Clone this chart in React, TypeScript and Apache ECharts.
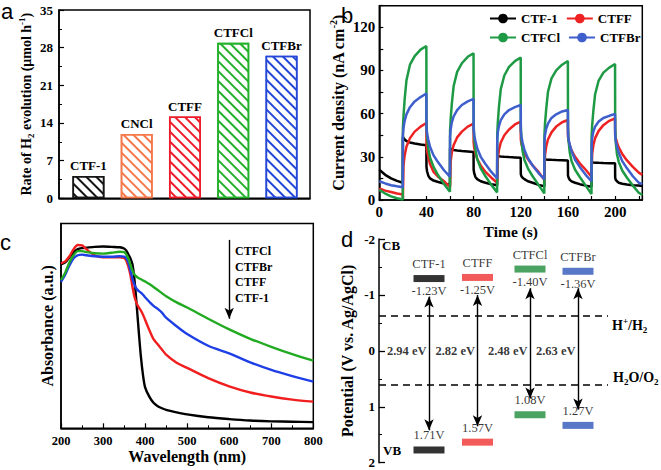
import React, { useEffect, useRef } from "react";
import * as echarts from "echarts";

const SERIF = '"Liberation Serif", "Times New Roman", Times, serif';
const SANS = '"Liberation Sans", Arial, Helvetica, sans-serif';

// ---------- (a) H2 evolution rate ----------
const rateNames = ["CTF-1", "CNCl", "CTFF", "CTFCl", "CTFBr"];
const rateValues = [4.15, 11.95, 15.2, 28.9, 26.5];
const rateColors = ["#151515", "#F5784A", "#EE1C2B", "#23B02A", "#2447D8"];

// ---------- (b) transient photocurrent ----------
const timeS = [0, 5, 10, 15, 19.9,
  20, 20.5, 21.5, 23, 26, 30, 35, 39.9,
  40, 40.5, 41.5, 43, 46, 50, 55, 59.9,
  60, 60.5, 61.5, 63, 66, 70, 75, 79.9,
  80, 80.5, 81.5, 83, 86, 90, 95, 99.9,
  100, 100.5, 101.5, 103, 106, 110, 115, 119.9,
  120, 120.5, 121.5, 123, 126, 130, 135, 139.9,
  140, 140.5, 141.5, 143, 146, 150, 155, 159.9,
  160, 160.5, 161.5, 163, 166, 170, 175, 179.9,
  180, 180.5, 181.5, 183, 186, 190, 195, 199.9,
  200, 200.5, 201.5, 203, 206, 210, 215, 220, 223];
const jCTF1 = [21, 17.5, 15, 13.3, 12,
  44, 43, 42, 41, 40, 39.2, 38.5, 38,
  23, 20, 17, 15, 13.5, 12.5, 11.5, 10.5,
  36, 35.6, 35.2, 34.8, 34.4, 34, 33.7, 33.4,
  21, 18.5, 16, 14.5, 13, 12, 11, 10.3,
  31, 30.7, 30.4, 30.2, 30, 29.8, 29.6, 29.4,
  18, 16.5, 15.5, 14.5, 13, 12, 10.5, 9.5,
  28.3, 28.2, 28.1, 28, 27.9, 27.8, 27.7, 27.5,
  17, 15.5, 14, 13, 12, 11, 10, 9.2,
  26.2, 26.1, 26, 25.9, 25.8, 25.7, 25.6, 25.5,
  15.5, 14, 13, 12, 11.3, 10.8, 10.3, 10, 9.8];
const jCTFF = [8, 6.5, 5.5, 4.5, 3.8,
  0.5, 24, 31, 37, 43, 47.5, 51, 53.5,
  38, 34, 30, 25, 19.5, 16, 13, 9,
  9.5, 27, 33, 38, 43.5, 47.5, 51, 53,
  40, 36, 32.5, 28.5, 24, 19.5, 15.5, 12,
  12, 29, 35, 40, 45, 49, 52.5, 54.4,
  42, 39, 36, 32.5, 28.5, 24, 19.5, 14,
  14, 31, 37, 42, 47, 51, 54, 55.6,
  44, 41, 38, 34.5, 30, 25.5, 21, 16.2,
  16.2, 32, 38, 43, 48, 52, 55, 56.7,
  46, 43, 40, 36.5, 32, 27.5, 23, 19, 17.5];
const jCTFCl = [7, 4.5, 2.5, 1.2, 0.3,
  50, 58, 70, 83, 94, 100, 104.5, 107,
  55, 44, 36, 29.5, 23, 17, 11, 5.8,
  48, 56, 67, 79, 89, 95, 99.5, 102,
  53, 43, 35, 28.5, 22, 16.5, 10.5, 5.3,
  46, 54, 65, 77, 86.5, 92.5, 96.5, 99,
  52, 42, 34, 28, 22, 16.5, 10.5, 4.6,
  45, 53, 63, 75, 84.5, 90, 94, 96.6,
  51, 41, 33, 27, 21, 16, 10, 4.2,
  44, 52, 62, 73.5, 83, 88.5, 92, 94.5,
  50, 40, 32, 26.5, 20.5, 15.5, 10, 5, 3.5];
const jCTFBr = [13, 11.5, 10.3, 9.5, 8.8,
  45, 50, 55, 59.5, 64.5, 68.5, 71.5, 74,
  50, 46, 42, 37, 31, 26, 20.5, 16.2,
  44, 49, 54, 58, 62.5, 66, 68.5, 70.2,
  49, 45, 41, 36, 30, 25, 19.5, 15,
  42, 47, 51.5, 55.5, 59.5, 62.5, 64.5, 66,
  48, 44, 40, 35, 29, 24, 18.7, 14.5,
  40, 45, 49.5, 53, 57, 59.5, 61.5, 62.5,
  46, 42, 38.5, 34, 28, 23, 17.5, 13,
  38, 43, 47.5, 51, 54.5, 57, 58.5, 59.8,
  45, 41, 37.5, 33, 27, 22, 16.5, 12, 11];

// ---------- (c) UV-vis absorbance ----------
const wavelength = [200, 210, 220, 230, 240, 250, 260, 280, 300, 320, 340, 350, 355, 360, 365, 370, 375, 380, 385, 390, 395, 400, 410, 420, 430, 440, 450, 475, 500, 550, 600, 650, 700, 750, 800];
const absCTF1 = [0.80, 0.81, 0.835, 0.86, 0.875, 0.88, 0.882, 0.886, 0.888, 0.886, 0.884, 0.878, 0.868, 0.85, 0.83, 0.80, 0.72, 0.60, 0.47, 0.35, 0.26, 0.20, 0.155, 0.125, 0.108, 0.098, 0.09, 0.078, 0.068, 0.054, 0.045, 0.038, 0.034, 0.032, 0.03];
const absCTFF = [0.805, 0.815, 0.84, 0.875, 0.895, 0.893, 0.875, 0.845, 0.835, 0.835, 0.835, 0.832, 0.82, 0.79, 0.75, 0.69, 0.64, 0.61, 0.59, 0.575, 0.555, 0.53, 0.48, 0.435, 0.41, 0.385, 0.36, 0.32, 0.295, 0.245, 0.205, 0.175, 0.155, 0.14, 0.13];
const absCTFCl = [0.725, 0.76, 0.81, 0.845, 0.865, 0.865, 0.86, 0.855, 0.853, 0.857, 0.862, 0.86, 0.85, 0.83, 0.80, 0.77, 0.75, 0.74, 0.733, 0.728, 0.722, 0.717, 0.705, 0.69, 0.675, 0.66, 0.645, 0.615, 0.59, 0.535, 0.483, 0.437, 0.398, 0.362, 0.33];
const absCTFBr = [0.715, 0.75, 0.795, 0.83, 0.845, 0.848, 0.845, 0.84, 0.838, 0.838, 0.84, 0.838, 0.83, 0.81, 0.77, 0.73, 0.70, 0.68, 0.67, 0.662, 0.652, 0.64, 0.618, 0.598, 0.583, 0.565, 0.54, 0.498, 0.46, 0.403, 0.366, 0.322, 0.285, 0.255, 0.228];
const cLegendOrder = ["CTFCl", "CTFBr", "CTFF", "CTF-1"];

// ---------- (d) band structure ----------
const bandNames = ["CTF-1", "CTFF", "CTFCl", "CTFBr"];
const bandX = [1, 1.97, 3.02, 3.98];
const cbValues = [-1.23, -1.25, -1.40, -1.36];
const vbValues = [1.71, 1.57, 1.08, 1.27];
const gapValues = [2.94, 2.82, 2.48, 2.63];
const bandColors = ["#000000", "#F03232", "#1E8C3A", "#2E55B8"];
const arrowTop = [-0.97, -1.0, -1.12, -1.12];
const arrowBottom = [1.42, 1.35, 0.85, 1.05];
const redoxLevels = [-0.63, 0.61];

const AXIS_LINE = { show: true, onZero: false, lineStyle: { color: "#000", width: 1.5 } };
const bold = (size: number) => ({ fontFamily: SERIF, fontWeight: "bold" as const, fontSize: size, color: "#000" });
const richSub = (size: number, lh: number) => ({
  sub: { fontFamily: SERIF, fontWeight: "bold", fontSize: size, verticalAlign: "bottom", lineHeight: lh, color: "#000" },
  sup: { fontFamily: SERIF, fontWeight: "bold", fontSize: size, verticalAlign: "top", lineHeight: lh, color: "#000" },
});

function buildOption(): any {
  const bSeries = [
    ["CTF-1", jCTF1, "#000000"],
    ["CTFF", jCTFF, "#EE2222"],
    ["CTFCl", jCTFCl, "#1E9A45"],
    ["CTFBr", jCTFBr, "#3E5FCC"],
  ].map(([name, arr, color]: any) => ({
    type: "line",
    name,
    xAxisIndex: 1,
    yAxisIndex: 1,
    symbol: "none",
    color,
    lineStyle: { color, width: 2.5 },
    data: timeS.map((t, i) => [t, arr[i]]),
  }));

  const cSeries = [
    ["c-CTF-1", absCTF1, "#000000"],
    ["c-CTFF", absCTFF, "#F01E1E"],
    ["c-CTFBr", absCTFBr, "#1E3FE6"],
    ["c-CTFCl", absCTFCl, "#22AA22"],
  ].map(([name, arr, color]: any, k) => ({
    type: "line",
    name,
    xAxisIndex: 2,
    yAxisIndex: 2,
    symbol: "none",
    smooth: 0.3,
    lineStyle: { color, width: 2.4 },
    data: wavelength.map((w, i) => [w, arr[i]]),
    ...(k === 3
      ? {
          markLine: {
            silent: true,
            symbol: ["none", "arrow"],
            symbolSize: [7, 11],
            label: { show: false },
            lineStyle: { color: "#000", width: 1.4, type: "solid" },
            data: [[{ coord: [600, 0.92] }, { coord: [600, 0.535] }]],
          },
        }
      : {}),
  }));

  const levelLabel = { fontFamily: SERIF, fontSize: 12.5, color: "#000" };

  const dSeries = [
    {
      type: "scatter", name: "CB", xAxisIndex: 3, yAxisIndex: 3,
      symbol: "rect", symbolSize: [31, 7], symbolOffset: [0, -3.5],
      data: bandNames.map((n, i) => ({ name: n, value: [bandX[i], cbValues[i]], itemStyle: { color: bandColors[i] } })),
    },
    {
      type: "scatter", name: "VB", xAxisIndex: 3, yAxisIndex: 3,
      symbol: "rect", symbolSize: [31, 7], symbolOffset: [0, 3.5],
      data: bandNames.map((n, i) => ({ name: n, value: [bandX[i], vbValues[i]], itemStyle: { color: bandColors[i] } })),
    },
    {
      type: "scatter", name: "cbName", xAxisIndex: 3, yAxisIndex: 3,
      symbolSize: 1, itemStyle: { color: "rgba(0,0,0,0)" },
      label: { show: true, position: "top", distance: 11, formatter: "{b}", ...levelLabel },
      data: bandNames.map((n, i) => ({ name: n, value: [bandX[i], cbValues[i]] })),
      markLine: {
        silent: true,
        symbol: ["arrow", "arrow"],
        symbolSize: [7, 11],
        label: { show: false },
        lineStyle: { color: "#000", width: 1.4, type: "solid" },
        data: bandX.map((x, i) => [{ coord: [x, arrowTop[i]] }, { coord: [x, arrowBottom[i]] }]),
      },
    },
    {
      type: "scatter", name: "cbValue", xAxisIndex: 3, yAxisIndex: 3,
      symbolSize: 1, itemStyle: { color: "rgba(0,0,0,0)" },
      label: { show: true, position: "bottom", distance: 2, formatter: (p: any) => p.value[1].toFixed(2) + "V", ...levelLabel },
      data: bandNames.map((n, i) => ({ name: n, value: [bandX[i], cbValues[i]] })),
    },
    {
      type: "scatter", name: "vbValue", xAxisIndex: 3, yAxisIndex: 3,
      symbolSize: 1, itemStyle: { color: "rgba(0,0,0,0)" },
      label: { show: true, position: "top", distance: 4, formatter: (p: any) => p.value[1].toFixed(2) + "V", ...levelLabel },
      data: bandNames.map((n, i) => ({ name: n, value: [bandX[i], vbValues[i]] })),
    },
    {
      type: "scatter", name: "gap", xAxisIndex: 3, yAxisIndex: 3,
      symbolSize: 1, itemStyle: { color: "rgba(0,0,0,0)" },
      label: { show: true, position: "left", distance: 2, formatter: (p: any) => gapValues[p.dataIndex].toFixed(2) + " eV", ...bold(12.5) },
      data: bandNames.map((n, i) => ({ name: n, value: [bandX[i], 0] })),
      markLine: {
        silent: true,
        symbol: ["none", "none"],
        label: { show: false },
        lineStyle: { color: "#000", width: 1.6, type: [7, 5] },
        data: redoxLevels.map((v) => ({ yAxis: v })),
      },
    },
  ];

  const barSeries = {
    type: "bar",
    name: "rate",
    xAxisIndex: 0,
    yAxisIndex: 0,
    barWidth: 32,
    label: { show: true, position: "top", distance: 4, formatter: "{b}", ...bold(13) },
    data: rateNames.map((n, i) => ({
      name: n,
      value: [i + 1, rateValues[i]],
      itemStyle: {
        color: "#ffffff",
        borderColor: rateColors[i],
        borderWidth: 1.6,
        decal: {
          symbol: "rect",
          symbolSize: 1,
          color: rateColors[i],
          dashArrayX: [1, 0],
          dashArrayY: [1.6, 5],
          rotation: Math.PI / 4,
        },
      },
    })),
  };

  const gridBox = { show: true, borderColor: "#000", borderWidth: 1.5, backgroundColor: "transparent" };

  const texts: any[] = [
    { type: "text", left: 1, top: 0, style: { text: "a", font: `22px ${SANS}`, fill: "#000" } },
    { type: "text", left: 341, top: 4, style: { text: "b", font: `22px ${SANS}`, fill: "#000" } },
    { type: "text", left: 0, top: 231, style: { text: "c", font: `22px ${SANS}`, fill: "#000" } },
    { type: "text", left: 341, top: 228, style: { text: "d", font: `22px ${SANS}`, fill: "#000" } },
    { type: "text", left: 382, top: 239, style: { text: "CB", font: `bold 13px ${SERIF}`, fill: "#000" } },
    { type: "text", left: 383, top: 444, style: { text: "VB", font: `bold 13px ${SERIF}`, fill: "#000" } },
    {
      type: "text", left: 612, top: 316,
      style: {
        text: "{b|H}{sup|+}{b|/H}{sub|2}",
        rich: { b: { ...bold(14), lineHeight: 18 }, ...richSub(9, 10) },
      },
    },
    {
      type: "text", left: 613, top: 370,
      style: {
        text: "{b|H}{sub|2}{b|O/O}{sub|2}",
        rich: { b: { ...bold(14), lineHeight: 18 }, ...richSub(9, 10) },
      },
    },
    ...cLegendOrder.map((t, i) => ({
      type: "text", left: 235, top: 245 + i * 15.7,
      style: { text: t, font: `bold 12px ${SERIF}`, fill: "#000" },
    })),
  ];

  return {
    animation: false,
    backgroundColor: "#ffffff",
    textStyle: { fontFamily: SERIF },
    grid: [
      { left: 59, top: 10, width: 251, height: 188.3, ...gridBox },
      { left: 379.3, top: 5.7, width: 263, height: 194.3, ...gridBox },
      { left: 61, top: 223.5, width: 252.3, height: 204.8, ...gridBox },
      { left: 379, top: 239, width: 229, height: 223.7, show: false },
    ],
    legend: [
      {
        data: ["CTF-1", "CTFF"], left: 489, top: 12, itemWidth: 26, itemHeight: 12, itemGap: 8,
        selectedMode: false, textStyle: bold(13), padding: 0,
      },
      {
        data: ["CTFCl", "CTFBr"], left: 489, top: 31, itemWidth: 26, itemHeight: 12, itemGap: 8,
        selectedMode: false, textStyle: bold(13), padding: 0,
      },
    ],
    xAxis: [
      {
        gridIndex: 0, type: "value", min: 0.39, max: 5.59,
        axisLine: AXIS_LINE, axisTick: { show: false }, axisLabel: { show: false }, splitLine: { show: false },
      },
      {
        gridIndex: 1, type: "value", min: 0, max: 223, interval: 20,
        axisLine: AXIS_LINE, splitLine: { show: false },
        axisTick: { inside: true, length: 4, lineStyle: { color: "#000", width: 1.2 } },
        axisLabel: { margin: 4, formatter: (v: number) => (v % 40 === 0 && v <= 200 ? String(v) : ""), ...bold(15) },
        name: "Time (s)", nameLocation: "middle", nameGap: 23, nameTextStyle: bold(15.5),
      },
      {
        gridIndex: 2, type: "value", min: 200, max: 800, interval: 100,
        axisLine: AXIS_LINE, splitLine: { show: false },
        axisTick: { inside: true, length: 5, lineStyle: { color: "#000", width: 1.2 } },
        minorTick: { show: true, splitNumber: 2, length: 3, lineStyle: { color: "#000", width: 1 } },
        axisLabel: { margin: 6, ...bold(12.5) },
        name: "Wavelength (nm)", nameLocation: "middle", nameGap: 19, nameTextStyle: bold(16),
      },
      { gridIndex: 3, type: "value", min: 0, max: 4.58, show: false },
    ],
    yAxis: [
      {
        gridIndex: 0, type: "value", min: 0, max: 35, interval: 7,
        axisLine: AXIS_LINE, splitLine: { show: false },
        axisTick: { inside: true, length: 5, lineStyle: { color: "#000", width: 1.2 } },
        minorTick: { show: true, splitNumber: 2, length: 3, lineStyle: { color: "#000", width: 1 } },
        axisLabel: { margin: 6, ...bold(13) },
        name: "Rate of H{sub|2} evolution (\u03bcmol h{sup|-1})", nameLocation: "middle", nameGap: 24,
        nameTextStyle: { ...bold(14), lineHeight: 18, rich: richSub(9, 10) },
      },
      {
        gridIndex: 1, type: "value", min: 0, max: 135, interval: 15,
        axisLine: AXIS_LINE, splitLine: { show: false },
        axisTick: { inside: true, length: 4, lineStyle: { color: "#000", width: 1.2 } },
        axisLabel: { margin: 4, formatter: (v: number) => (v % 30 === 0 && v <= 120 ? String(v) : ""), ...bold(15) },
        name: "Current density (nA cm{sup|-2})", nameLocation: "middle", nameGap: 27,
        nameTextStyle: { ...bold(16), lineHeight: 20, rich: richSub(10, 11) },
      },
      {
        gridIndex: 2, type: "value", min: 0, max: 1,
        axisLine: AXIS_LINE, splitLine: { show: false }, axisTick: { show: false }, axisLabel: { show: false },
        name: "Absorbance (a.u.)", nameLocation: "middle", nameGap: 6, nameTextStyle: bold(16),
      },
      {
        gridIndex: 3, type: "value", min: -2, max: 2, interval: 1, inverse: true,
        axisLine: AXIS_LINE, splitLine: { show: false },
        axisTick: { inside: true, length: 6, lineStyle: { color: "#000", width: 1.3 } },
        minorTick: { show: true, splitNumber: 2, length: 3, lineStyle: { color: "#000", width: 1 } },
        axisLabel: { margin: 4, ...bold(13) },
        name: "Potential (V vs. Ag/AgCl)", nameLocation: "middle", nameGap: 24, nameTextStyle: bold(16),
      },
    ],
    graphic: texts,
    series: [barSeries, ...bSeries, ...cSeries, ...dSeries],
  };
}

export default function App() {
  const ref = useRef<HTMLDivElement>(null);
  useEffect(() => {
    if (!ref.current) return;
    const chart = echarts.init(ref.current, null, { renderer: "svg" });
    chart.setOption(buildOption());
    return () => chart.dispose();
  }, []);
  return (
    <div
      ref={ref}
      style={{ position: "fixed", left: 0, top: 0, width: 661, height: 470, background: "#fff" }}
    />
  );
}
